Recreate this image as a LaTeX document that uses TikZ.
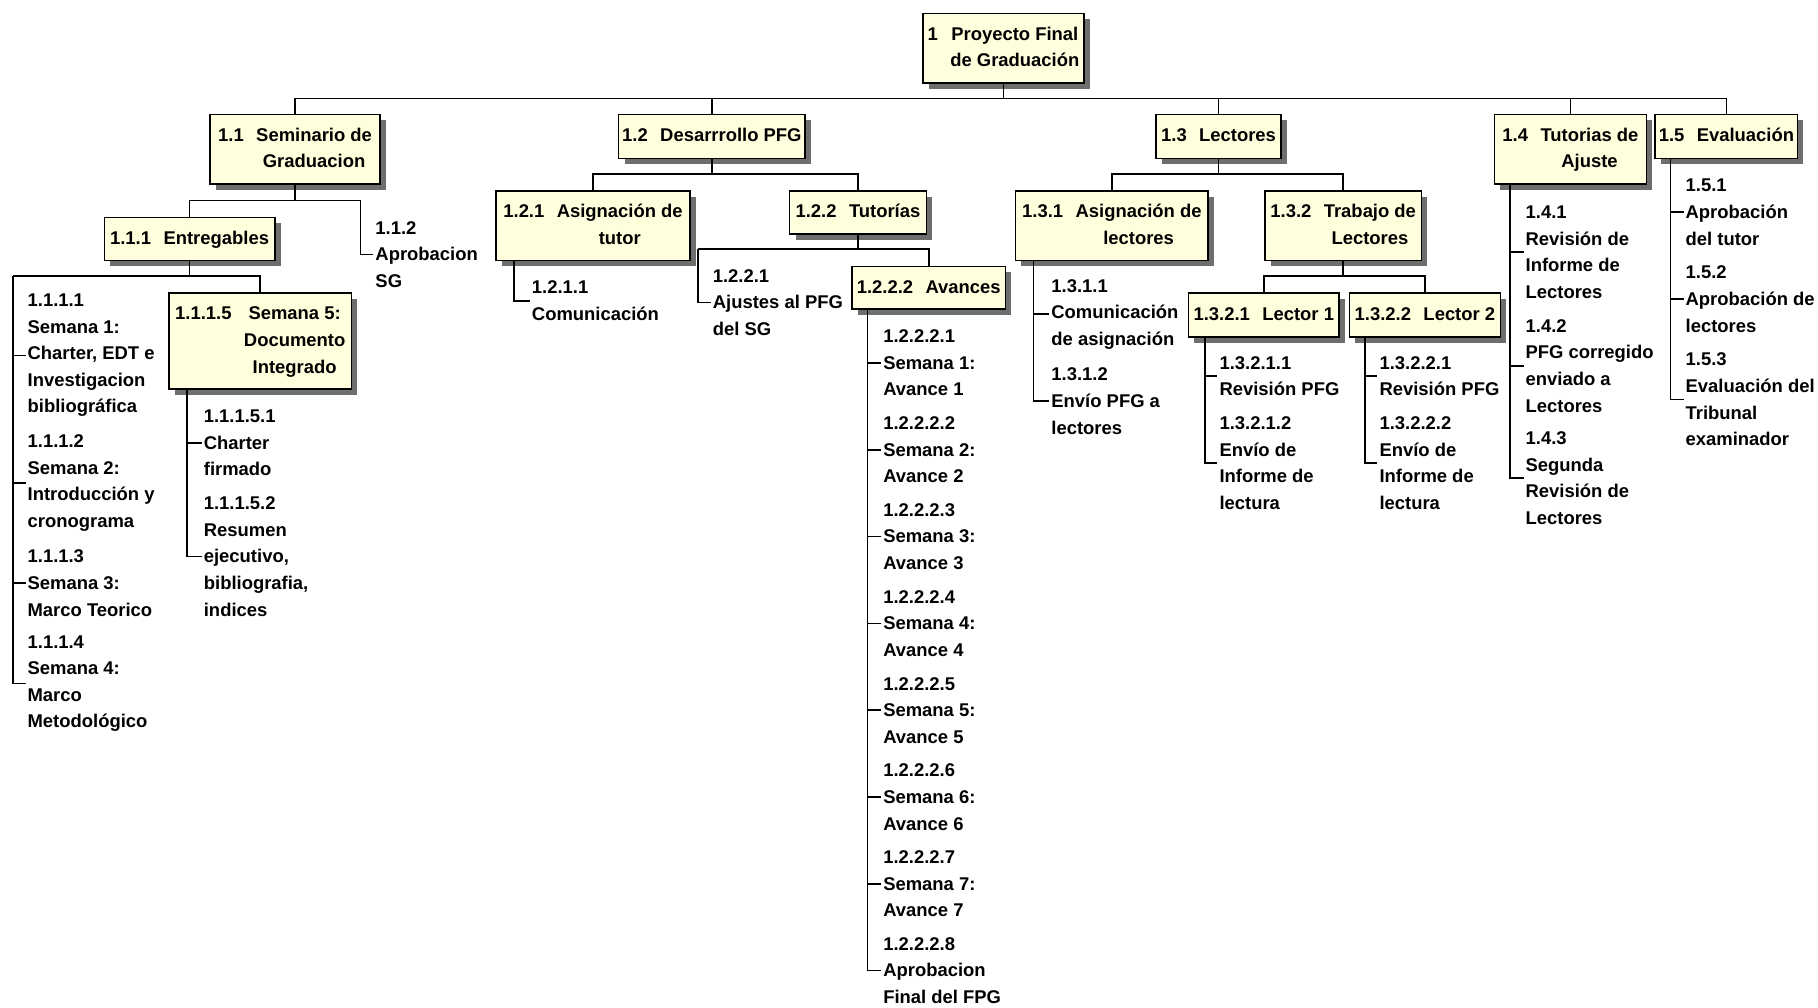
\documentclass[tikz,border=0pt]{standalone}
\usepackage{fontspec}
\setmainfont{Liberation Sans}
\usetikzlibrary{shadows}
\definecolor{wbsfill}{HTML}{FFFFDD}
\definecolor{wbsshadow}{HTML}{6E6E6E}
\newcommand{\wbstext}[2]{#1\hspace{7pt}\begin{tabular}[t]{@{}c@{}}#2\end{tabular}}

\begin{document}
\begin{tikzpicture}[x=0.023cm,y=-0.023cm,
    font=\fontsize{10.4}{15}\selectfont\bfseries,
    wbsbox/.style={draw,line width=0.9pt,fill=wbsfill,anchor=north,inner sep=2pt,
        drop shadow={shadow xshift=3.3pt,shadow yshift=-3.3pt,fill=wbsshadow,opacity=1}},
    wbsitem/.style={anchor=west,align=left,inner sep=1pt},
    wbsline/.style={line width=0.9pt}]
    \useasboundingbox (0,0) rectangle (1568,869);

    % boxes
    \node[wbsbox,minimum width=3.20cm,minimum height=1.38cm] (root) at (865.5,11) {\wbstext{1}{Proyecto Final\\de Graduación}};

    \node[wbsbox,minimum width=3.38cm,minimum height=1.38cm] (n11) at (254.5,98) {\wbstext{1.1}{Seminario de\\Graduacion}};
    \node[wbsbox,minimum width=3.68cm,minimum height=0.874cm] (n12) at (614,98) {\wbstext{1.2}{Desarrrollo PFG}};
    \node[wbsbox,minimum width=2.48cm,minimum height=0.874cm] (n13) at (1051,98) {\wbstext{1.3}{Lectores}};
    \node[wbsbox,minimum width=3.01cm,minimum height=1.38cm] (n14) at (1354.5,98) {\wbstext{1.4}{Tutorias de\\Ajuste}};
    \node[wbsbox,minimum width=2.81cm,minimum height=0.874cm] (n15) at (1489,98) {\wbstext{1.5}{Evaluación}};

    \node[wbsbox,minimum width=3.38cm,minimum height=0.85cm] (n111) at (163.5,187) {\wbstext{1.1.1}{Entregables}};
    \node[wbsbox,minimum width=3.61cm,minimum height=1.91cm] (n1115) at (224.5,252) {\wbstext{1.1.1.5}{Semana 5:\\Documento\\Integrado}};
    \node[wbsbox,minimum width=3.84cm,minimum height=1.38cm] (n121) at (511.5,164) {\wbstext{1.2.1}{Asignación de\\tutor}};
    \node[wbsbox,minimum width=2.71cm,minimum height=0.85cm] (n122) at (740,164) {\wbstext{1.2.2}{Tutorías}};
    \node[wbsbox,minimum width=3.04cm,minimum height=0.85cm] (n1222) at (801,229) {\wbstext{1.2.2.2}{Avances}};
    \node[wbsbox,minimum width=3.82cm,minimum height=1.38cm] (n131) at (959,164) {\wbstext{1.3.1}{Asignación de\\lectores}};
    \node[wbsbox,minimum width=3.11cm,minimum height=1.38cm] (n132) at (1158.5,164) {\wbstext{1.3.2}{Trabajo de\\Lectores}};
    \node[wbsbox,minimum width=2.99cm,minimum height=0.874cm] (n1321) at (1090,252) {\wbstext{1.3.2.1}{Lector 1}};
    \node[wbsbox,minimum width=2.99cm,minimum height=0.874cm] (n1322) at (1229,252) {\wbstext{1.3.2.2}{Lector 2}};

    % work packages
    \node[wbsitem] (i112) at (322,219.5) {1.1.2\\Aprobacion\\SG};
    \node[wbsitem] (i1111) at (22,306.5) {1.1.1.1\\Semana 1:\\Charter, EDT e\\Investigacion\\bibliográfica};
    \node[wbsitem] (i1112) at (22,416.5) {1.1.1.2\\Semana 2:\\Introducción y\\cronograma};
    \node[wbsitem] (i1113) at (22,503) {1.1.1.3\\Semana 3:\\Marco Teorico};
    \node[wbsitem] (i1114) at (22,589.5) {1.1.1.4\\Semana 4:\\Marco\\Metodológico};
    \node[wbsitem] (i11151) at (174,382) {1.1.1.5.1\\Charter\\firmado};
    \node[wbsitem] (i11152) at (174,480) {1.1.1.5.2\\Resumen\\ejecutivo,\\bibliografia,\\indices};
    \node[wbsitem] (i1211) at (457,259.5) {1.2.1.1\\Comunicación};
    \node[wbsitem] (i1221) at (613,261) {1.2.2.1\\Ajustes al PFG\\del SG};
    \foreach \k in {1,...,7}
        \node[wbsitem] (i1222\k) at (760,{313+74.9*(\k-1)}) {1.2.2.2.\k\\Semana \k:\\Avance \k};
    \node[wbsitem] (i12228) at (760,837) {1.2.2.2.8\\Aprobacion\\Final del FPG};
    \node[wbsitem] (i1311) at (905,271) {1.3.1.1\\Comunicación\\de asignación};
    \node[wbsitem] (i1312) at (905,346) {1.3.1.2\\Envío PFG a\\lectores};
    \node[wbsitem] (i13211) at (1050,324.5) {1.3.2.1.1\\Revisión PFG};
    \node[wbsitem] (i13212) at (1050,399.5) {1.3.2.1.2\\Envío de\\Informe de\\lectura};
    \node[wbsitem] (i13221) at (1188,324.5) {1.3.2.2.1\\Revisión PFG};
    \node[wbsitem] (i13222) at (1188,399.5) {1.3.2.2.2\\Envío de\\Informe de\\lectura};
    \node[wbsitem] (i141) at (1314,217.5) {1.4.1\\Revisión de\\Informe de\\Lectores};
    \node[wbsitem] (i142) at (1314,315.5) {1.4.2\\PFG corregido\\enviado a\\Lectores};
    \node[wbsitem] (i143) at (1314,412.5) {1.4.3\\Segunda\\Revisión de\\Lectores};
    \node[wbsitem] (i151) at (1452,183) {1.5.1\\Aprobación\\del tutor};
    \node[wbsitem] (i152) at (1452,258) {1.5.2\\Aprobación de\\lectores};
    \node[wbsitem] (i153) at (1452,344.5) {1.5.3\\Evaluación del\\Tribunal\\examinador};

    % buses
    \coordinate (b0) at (0,85);
    \coordinate (b12) at (0,150);
    \coordinate (b13) at (0,150);
    \coordinate (b132) at (0,238);
    \coordinate (l112) at (311,173);
    \coordinate (l1111) at (11,238);
    \coordinate (l1221) at (602,215);

    \draw[wbsline] (root.south) -- (root.south |- b0);
    \draw[wbsline] (n11.north) |- (n15.north |- b0) -- (n15.north);
    \foreach \n in {n12,n13,n14}
        \draw[wbsline] (\n.north) -- (\n.north |- b0);

    \draw[wbsline] (n11.south) |- (l112);
    \draw[wbsline] (n111.north) |- (l112);
    \draw[wbsline] (l112) |- (i112.west);

    \draw[wbsline] (n111.south) |- (l1111);
    \draw[wbsline] (n1115.north) |- (l1111);
    \foreach \i in {1111,1112,1113,1114}
        \draw[wbsline] (l1111) |- (i\i.west);
    \foreach \i in {11151,11152}
        \draw[wbsline] (n1115.south west) ++(16,0) |- (i\i.west);

    \draw[wbsline] (n12.south) -- (n12.south |- b12);
    \draw[wbsline] (n121.north) |- (n122.north |- b12) -- (n122.north);
    \draw[wbsline] (n121.south west) ++(16,0) |- (i1211.west);
    \draw[wbsline] (n122.south) |- (l1221);
    \draw[wbsline] (n1222.north) |- (l1221);
    \draw[wbsline] (l1221) |- (i1221.west);
    \foreach \k in {1,...,8}
        \draw[wbsline] (n1222.south west) ++(14,0) |- (i1222\k.west);

    \draw[wbsline] (n13.south) -- (n13.south |- b13);
    \draw[wbsline] (n131.north) |- (n132.north |- b13) -- (n132.north);
    \foreach \i in {1311,1312}
        \draw[wbsline] (n131.south west) ++(16,0) |- (i\i.west);
    \draw[wbsline] (n132.south) -- (n132.south |- b132);
    \draw[wbsline] (n1321.north) |- (n1322.north |- b132) -- (n1322.north);
    \foreach \i in {13211,13212}
        \draw[wbsline] (n1321.south west) ++(15,0) |- (i\i.west);
    \foreach \i in {13221,13222}
        \draw[wbsline] (n1322.south west) ++(14,0) |- (i\i.west);

    \foreach \i in {141,142,143}
        \draw[wbsline] (n14.south west) ++(14,0) |- (i\i.west);
    \foreach \i in {151,152,153}
        \draw[wbsline] (n15.south west) ++(14,0) |- (i\i.west);
\end{tikzpicture}
\end{document}
